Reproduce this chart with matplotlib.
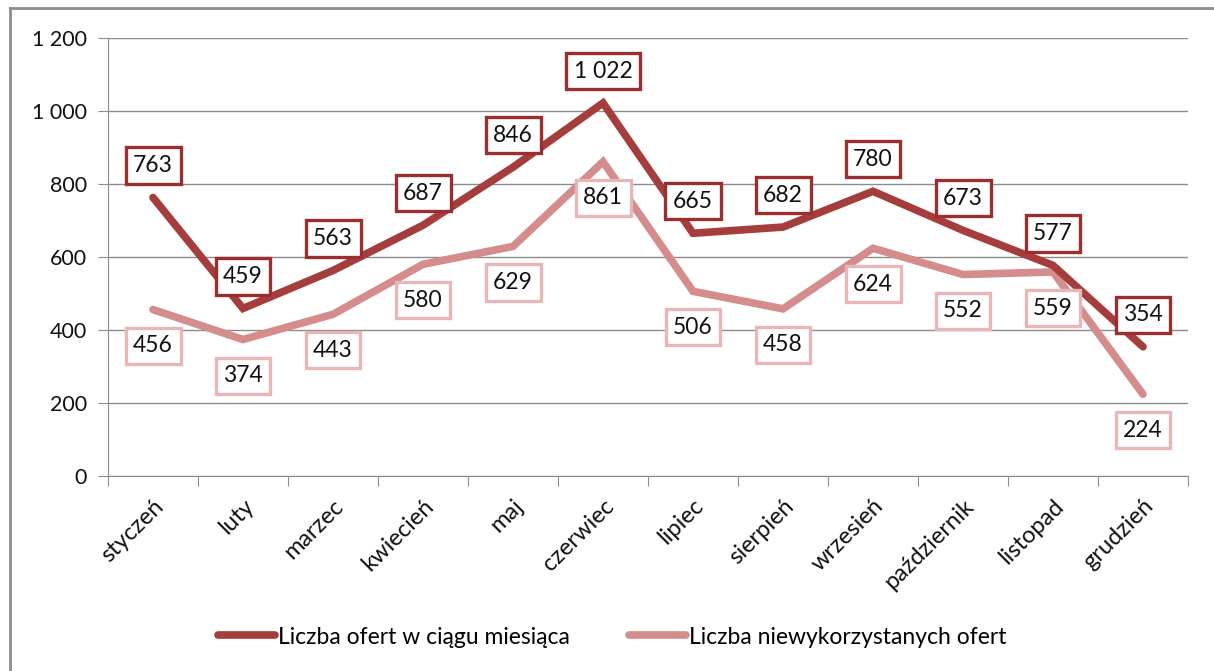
import matplotlib
matplotlib.use("Agg")
import matplotlib.pyplot as plt
from matplotlib.lines import Line2D
from matplotlib.ticker import FuncFormatter, MultipleLocator

plt.rcParams['font.family'] = ['Lato', 'DejaVu Sans']

months = ["styczeń", "luty", "marzec", "kwiecień", "maj", "czerwiec", "lipiec",
          "sierpień", "wrzesień", "październik", "listopad", "grudzień"]
offers_total = [763, 459, 563, 687, 846, 1022, 665, 682, 780, 673, 577, 354]
offers_unused = [456, 374, 443, 580, 629, 861, 506, 458, 624, 552, 559, 224]
series_names = ["Liczba ofert w ciągu miesiąca", "Liczba niewykorzystanych ofert"]

red = "#A63D3D"
red_edge = "#9B2F30"
pink = "#D48C8C"
pink_edge = "#E8B6B6"

W, H = 1214, 671
fig = plt.figure(figsize=(W / 100, H / 100), dpi=100)
ax = fig.add_axes([108 / W, 1 - 476 / H, (1188 - 108) / W, (476 - 38) / H])

x = list(range(len(months)))
ax.plot(x, offers_total, color=red, lw=5.5, solid_capstyle='round', solid_joinstyle='miter', zorder=3)
ax.plot(x, offers_unused, color=pink, lw=5.5, solid_capstyle='round', solid_joinstyle='miter', zorder=2)

def fmt(v):
    return f"{v:,}".replace(",", " ")

for xi, v in zip(x, offers_total):
    ax.annotate(fmt(v), (xi, v), xytext=(0, 23), textcoords='offset points',
                ha='center', va='center', fontsize=16.5, color='#111111', zorder=6,
                bbox=dict(boxstyle='square,pad=0.33', fc='white', ec=red_edge, lw=2.4))
for xi, v in zip(x, offers_unused):
    ax.annotate(fmt(v), (xi, v), xytext=(0, -26), textcoords='offset points',
                ha='center', va='center', fontsize=16.5, color='#111111', zorder=5,
                bbox=dict(boxstyle='square,pad=0.33', fc='white', ec=pink_edge, lw=2.4))

ax.set_xlim(-0.5, 11.5)
ax.set_ylim(0, 1200)
ax.yaxis.set_major_locator(MultipleLocator(200))
ax.yaxis.set_major_formatter(FuncFormatter(lambda v, p: fmt(int(v))))
ax.grid(axis='y', color='#8C8C8C', lw=1)
ax.set_axisbelow(True)
for s in ['top', 'right']:
    ax.spines[s].set_visible(False)
ax.spines['left'].set_color('#8C8C8C')
ax.spines['bottom'].set_color('#8C8C8C')
ax.tick_params(axis='y', length=7, color='#8C8C8C', labelsize=15.5, pad=8, labelcolor='#111111')

ax.set_xticks([i - 0.5 for i in range(13)])
ax.set_xticklabels([])
ax.set_xticks(x, minor=True)
ax.set_xticklabels(months, minor=True, rotation=45, ha='right', rotation_mode='anchor',
                   fontsize=17, color='#111111')
ax.tick_params(axis='x', which='major', length=7, color='#8C8C8C', direction='out')
ax.tick_params(axis='x', which='minor', length=0, pad=14)

handles = [Line2D([0], [0], color=red, lw=5.5, solid_capstyle='round'),
           Line2D([0], [0], color=pink, lw=5.5, solid_capstyle='round')]
fig.legend(handles, series_names, loc='center', bbox_to_anchor=(612 / W, 1 - 637 / H),
           ncol=2, frameon=False, fontsize=16.5, handlelength=2.5, handletextpad=0.1,
           columnspacing=2.6)

# outer chart frame
fig.add_artist(Line2D([10 / W, 10 / W], [0, 1 - 8 / H], color='#8C8C8C', lw=2, transform=fig.transFigure))
fig.add_artist(Line2D([10 / W, 1], [1 - 8 / H, 1 - 8 / H], color='#8C8C8C', lw=2, transform=fig.transFigure))

fig.savefig("out.png", dpi=100, facecolor='white')
